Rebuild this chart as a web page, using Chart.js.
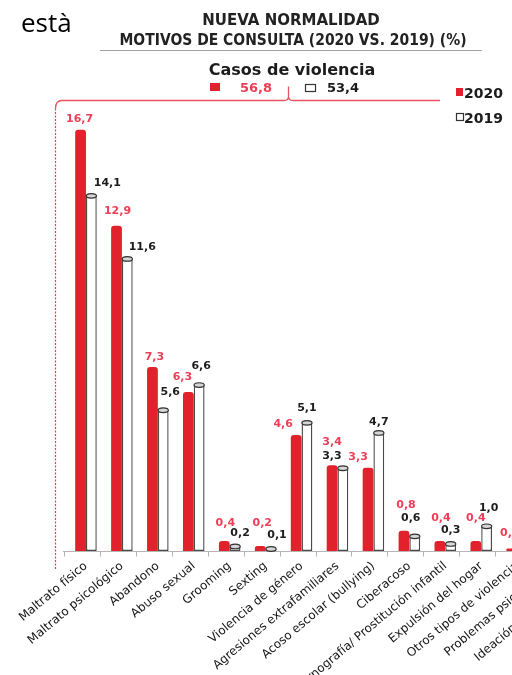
<!DOCTYPE html>
<html lang="es">
<head>
<meta charset="utf-8">
<title>Motivos de consulta 2020 vs 2019</title>
<script src="https://cdn.jsdelivr.net/npm/chart.js@4.4.1/dist/chart.umd.min.js"></script>
<style>
  html, body { margin: 0; padding: 0; background: #fff; }
  #page { position: relative; width: 512px; height: 675px; overflow: hidden; }
  #chart { position: absolute; left: 0; top: 0; }
  #word { position: absolute; left: 21px; top: 9px; font: 26px/26px "Open Sans", sans-serif; color: #000; }
</style>
</head>
<body>
<div id="page">
  <canvas id="chart" width="610" height="675"></canvas>
  <div id="word">està</div>
</div>
<script>
// Reasons for consultation, share of calls (%)
const categories = [
  'Maltrato físico', 'Maltrato psicológico', 'Abandono', 'Abuso sexual', 'Grooming',
  'Sexting', 'Violencia de género', 'Agresiones extrafamiliares', 'Acoso escolar (bullying)',
  'Ciberacoso', 'Pornografía/ Prostitución infantil', 'Expulsión del hogar',
  'Otros tipos de violencia', 'Problemas psicológicos', 'Ideación/ intento suicida'
];
const values2020 = [16.7, 12.9, 7.3, 6.3, 0.4, 0.2, 4.6, 3.4, 3.3, 0.8, 0.4, 0.4, 0.1, null, null];
const values2019 = [14.1, 11.6, 5.6, 6.6, 0.2, 0.1, 5.1, 3.3, 4.7, 0.6, 0.3, 1.0, 0.2, null, null];
const seriesNames = ['2020', '2019'];
// The first categories (up to "Otros tipos de violencia") make up "Casos de violencia"
const violenceCategoryCount = 13;

// Value-label nudges [dx, dy] from the top centre of each bar, keeping neighbours apart
const labelNudge2020 = [[-1,-11],[1,-14],[2,-10],[-6,-15],[1,-18],[2,-23],[-13,-11],[0,-23],[-10,-11],[2,-26],[1,-23],[0,-23],[-2,-15],[0,-12],[0,-12]];
const labelNudge2019 = [[16,-12],[15,-11],[7,-18],[2,-18],[5,-13],[6,-13],[0,-14],[-11,-12],[0,-10],[-4,-18],[0,-13],[2,-18],[3,-13],[0,-12],[0,-12]];

const RED = '#e1212b';
const RED_TEXT = '#ee3d56';
const BRACKET = '#e8555e';
const DARK = '#1c1c1c';
const FONT = '"DejaVu Sans", sans-serif';

const fmt = v => v.toFixed(1).replace('.', ',');
const total = arr => arr.slice(0, violenceCategoryCount).reduce((s, v) => s + (v || 0), 0);

const decor = {
  id: 'decor',
  beforeDatasetsDraw(chart) {
    // baseline with small tick marks at the category boundaries
    const { ctx, chartArea, scales: { x } } = chart;
    const step = x.getPixelForValue(1) - x.getPixelForValue(0);
    const y0 = Math.round(chartArea.bottom) + 0.5;
    const shift = 4;
    const first = x.getPixelForValue(0) - step / 2 - shift;
    ctx.save();
    ctx.strokeStyle = '#b5b5b5';
    ctx.lineWidth = 1;
    ctx.beginPath();
    ctx.moveTo(first - 1, y0);
    ctx.lineTo(chart.width, y0);
    for (let i = 0; i <= categories.length; i++) {
      const tx = Math.round(first + i * step) + 0.5;
      ctx.moveTo(tx, y0);
      ctx.lineTo(tx, y0 + 5);
    }
    ctx.stroke();
    ctx.restore();
  },
  afterDatasetsDraw(chart) {
    const { ctx } = chart;
    const m20 = chart.getDatasetMeta(0);
    const m19 = chart.getDatasetMeta(1);
    ctx.save();
    // cylinder caps on the 2019 bars
    m19.data.forEach((el, i) => {
      if (values2019[i] == null) return;
      ctx.beginPath();
      ctx.ellipse(el.x, el.y + 0.5, el.width / 2 - 0.3, 2.3, 0, 0, Math.PI * 2);
      ctx.fillStyle = '#d6d6d6';
      ctx.fill();
      ctx.lineWidth = 1.2;
      ctx.strokeStyle = '#333';
      ctx.stroke();
    });
    // value labels
    ctx.font = 'bold 11px ' + FONT;
    ctx.textAlign = 'center';
    ctx.textBaseline = 'middle';
    m20.data.forEach((el, i) => {
      if (values2020[i] == null) return;
      const [dx, dy] = labelNudge2020[i];
      ctx.fillStyle = RED_TEXT;
      ctx.fillText(fmt(values2020[i]), el.x + dx, el.y + dy);
    });
    m19.data.forEach((el, i) => {
      if (values2019[i] == null) return;
      const [dx, dy] = labelNudge2019[i];
      ctx.fillStyle = DARK;
      ctx.fillText(fmt(values2019[i]), el.x + dx, el.y + dy);
    });
    ctx.restore();
  },
  afterDraw(chart) {
    const { ctx, chartArea } = chart;
    const ds = chart.data.datasets;
    ctx.save();

    // heading
    ctx.fillStyle = '#222';
    ctx.textAlign = 'center';
    ctx.textBaseline = 'alphabetic';
    ctx.font = 'bold 15px ' + FONT;
    ctx.fillText('NUEVA NORMALIDAD', 291, 25, 181);
    ctx.fillText('MOTIVOS DE CONSULTA (2020 VS. 2019) (%)', 293, 45, 347);
    ctx.strokeStyle = '#a0a0a0';
    ctx.lineWidth = 1;
    ctx.beginPath();
    ctx.moveTo(100, 50.5);
    ctx.lineTo(482, 50.5);
    ctx.stroke();

    // "Casos de violencia" summary
    ctx.fillStyle = DARK;
    ctx.font = 'bold 16px ' + FONT;
    ctx.fillText('Casos de violencia', 292, 75, 172);
    ctx.textAlign = 'left';
    ctx.font = 'bold 13px ' + FONT;
    ctx.fillStyle = ds[0].backgroundColor;
    ctx.fillRect(210, 83, 10, 8);
    ctx.fillStyle = RED_TEXT;
    ctx.fillText(fmt(total(values2020)), 240, 92);
    ctx.fillStyle = '#fff';
    ctx.fillRect(305.5, 84.5, 10, 7);
    ctx.strokeStyle = '#333';
    ctx.lineWidth = 1.2;
    ctx.strokeRect(305.5, 84.5, 10, 7);
    ctx.fillStyle = DARK;
    ctx.fillText(fmt(total(values2019)), 327, 92);

    // brace spanning the violence categories
    const top = chartArea.top + 3.5;
    ctx.strokeStyle = BRACKET;
    ctx.lineWidth = 1.3;
    ctx.beginPath();
    ctx.moveTo(55.5, top + 8);
    ctx.quadraticCurveTo(55.5, top, 62, top);
    ctx.lineTo(284, top);
    ctx.quadraticCurveTo(288.5, top, 288.5, top - 4);
    ctx.lineTo(288.5, top - 14);
    ctx.moveTo(288.5, top - 4);
    ctx.quadraticCurveTo(288.5, top, 293, top);
    ctx.lineTo(440, top);
    ctx.stroke();
    // dotted guide down the left side
    ctx.lineWidth = 1.2;
    ctx.strokeStyle = '#e4404c';
    ctx.setLineDash([2, 1.5]);
    ctx.beginPath();
    ctx.moveTo(55.5, top + 8);
    ctx.lineTo(55.5, chartArea.bottom + 19);
    ctx.stroke();
    ctx.setLineDash([]);

    // series key
    ctx.font = 'bold 14px ' + FONT;
    ctx.textAlign = 'left';
    ctx.fillStyle = ds[0].backgroundColor;
    ctx.fillRect(456, 88, 7, 8);
    ctx.fillStyle = DARK;
    ctx.fillText(ds[0].label, 464, 98, 39);
    ctx.fillStyle = '#fff';
    ctx.fillRect(456.5, 113.5, 7, 7);
    ctx.strokeStyle = '#333';
    ctx.lineWidth = 1.2;
    ctx.strokeRect(456.5, 113.5, 7, 7);
    ctx.fillStyle = DARK;
    ctx.fillText(ds[1].label, 464, 123, 39);

    ctx.restore();
  }
};

new Chart(document.getElementById('chart'), {
  type: 'bar',
  data: {
    labels: categories,
    datasets: [
      {
        label: seriesNames[0],
        data: values2020,
        backgroundColor: RED,
        borderWidth: 0,
        borderRadius: { topLeft: 3, topRight: 3, bottomLeft: 0, bottomRight: 0 },
        borderSkipped: 'bottom'
      },
      {
        label: seriesNames[1],
        data: values2019,
        backgroundColor: '#ffffff',
        borderColor: '#4a4a4a',
        borderWidth: 1.4,
        borderSkipped: false
      }
    ]
  },
  options: {
    responsive: false,
    animation: false,
    events: [],
    layout: { padding: { left: 68, right: 3, top: 97, bottom: 0 } },
    datasets: { bar: { categoryPercentage: 0.6, barPercentage: 1.0 } },
    scales: {
      x: {
        grid: { display: false, drawTicks: false },
        border: { display: false },
        ticks: {
          autoSkip: false,
          minRotation: 40,
          maxRotation: 40,
          padding: 8,
          color: '#161616',
          font: { family: FONT, size: 12 }
        },
        afterFit(scale) { scale.height = 124; }
      },
      y: { display: false, min: 0, max: 18 }
    },
    plugins: {
      legend: { display: false },
      tooltip: { enabled: false }
    }
  },
  plugins: [decor]
});
</script>
</body>
</html>
